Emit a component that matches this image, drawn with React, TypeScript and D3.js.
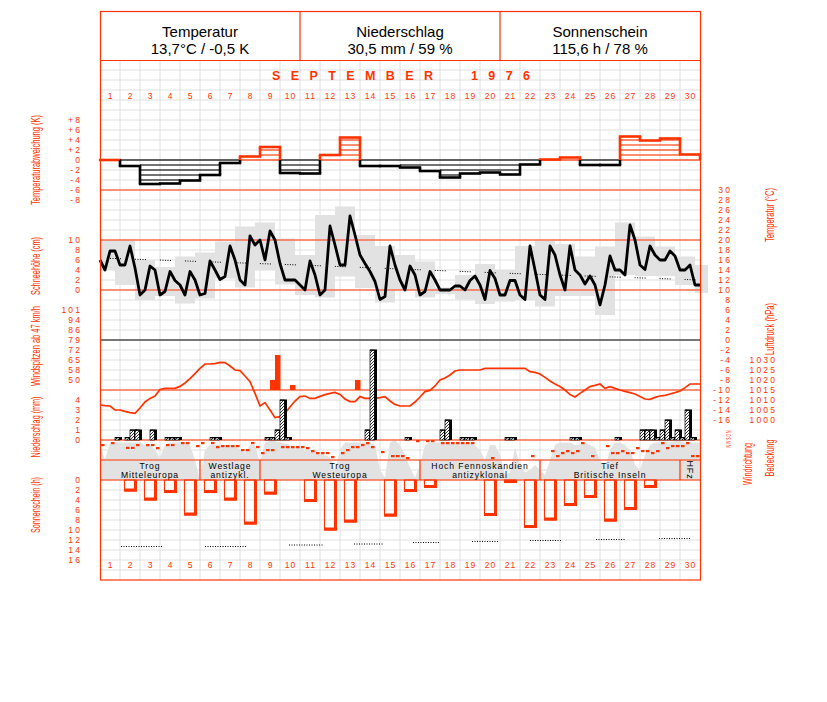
import React from 'react';
import * as d3 from 'd3';

const RED = '#ff3300';
const GRID = '#e0e0e0';
const SHADE = '#e2e2e2';

const days = d3.range(1, 31);
const headerTitles = ['Temperatur', 'Niederschlag', 'Sonnenschein'];
const headerValues = ['13,7°C / -0,5 K', '30,5 mm / 59 %', '115,6 h / 78 %'];
const monthTitle = 'SEPTEMBER  1976';

// daily temperature deviation (K)
const tempDev = [0.0, -1.2, -4.8, -4.7, -4.1, -3.0, -0.6, 0.7, 2.6, -2.6, -2.7, 1.0, 4.5, -1.2, -1.2, -1.5, -2.2, -3.5, -2.7, -2.5, -2.9, -0.9, 0.1, 0.5, -1.0, -1.0, 4.7, 3.9, 4.3, 1.1];

// temperature readings every 6 h (°C)
const tempReadings = [16, 14, 17.8, 17.8, 15, 15, 18.8, 14.4, 9, 10,
  14.8, 14, 9, 9.7, 13.7, 11.9, 11, 9, 13.7, 12,
  9, 9.3, 15.8, 14, 12.1, 12.7, 18.8, 16, 12, 11,
  20.8, 19, 20, 16, 21.8, 20, 15.3, 12, 12, 12,
  11, 10, 15.8, 13, 9, 10, 22.8, 19, 15, 15,
  24.8, 21, 17, 15.3, 13.7, 11.7, 8.1, 8.7, 18.8, 15,
  12, 10, 14.8, 13, 9, 9.7, 13.7, 12, 10, 10,
  10, 10.8, 10.8, 10, 11.9, 12.8, 11, 8.1, 13.9, 12.3,
  9, 9, 11.9, 11.9, 9, 8.1, 18.8, 14, 9, 8.1,
  18.8, 17, 13, 10, 18.8, 14, 13, 11.2, 12.8, 11,
  7, 11, 16.8, 14, 14, 13, 23, 20, 15, 14.1,
  18.8, 17, 16, 16, 17.8, 16.8, 14, 14, 15, 11, 11];

// daily max / min temperature (°C)
const tempMax = [20, 20.1, 16, 14.6, 16.7, 17.5, 19.7, 22.7, 23.5, 20.3, 17, 25, 26.7, 21, 18.8, 17, 15.7, 10.5, 13, 15.2, 14, 18.8, 19.8, 19.2, 16.7, 18.7, 23.5, 20.7, 18.7, 16.7, 15];
const tempMin = [14, 11, 8, 8.8, 7.3, 8.3, 12.3, 10.5, 14, 11.1, 9, 8.5, 12.7, 10.4, 7.5, 10, 8.5, 9.2, 8.1, 7.2, 7.7, 8, 6.7, 8.8, 8.8, 5, 13, 12.8, 12.8, 11, 9.4];

// long-term normal temperature (day, °C)
const normalTempDay = [0, 10, 20, 30];
const normalTempVal = [16.4, 15.0, 13.4, 12.0];

// air pressure every 6 h (hPa)
const pressure = [1007.5, 1007.2, 1007, 1005, 1005, 1004.3, 1003.7, 1003.3, 1006, 1009,
  1010.8, 1012, 1015.3, 1015.8, 1015.8, 1015.8, 1016.8, 1018.5, 1020.7, 1023.2,
  1025.8, 1028, 1028, 1028.2, 1028.8, 1028.7, 1027, 1025, 1024.7, 1022,
  1019.2, 1013.3, 1007, 1008.7, 1005, 1001.2, 1001.7, 1003.5, 1006.5, 1009.5,
  1011.7, 1012, 1010.8, 1010.8, 1011.8, 1012.7, 1013.3, 1013.8, 1012.8, 1010.5,
  1009.2, 1009.2, 1011.7, 1010.8, 1010.8, 1010.8, 1011.2, 1011.7, 1009.5, 1007.8,
  1007, 1007, 1007, 1009, 1011.5, 1014.2, 1014.8, 1017, 1020, 1021,
  1022.5, 1024.5, 1025, 1025, 1025, 1025, 1025, 1025.8, 1025.8, 1025.8,
  1025.8, 1025.8, 1025.8, 1025.8, 1025.8, 1025.8, 1024.2, 1023.8, 1023, 1021.3,
  1019.5, 1018, 1016.7, 1015, 1012.7, 1011.5, 1013.3, 1015, 1016.7, 1017.3,
  1018, 1015.8, 1016.7, 1015.8, 1015, 1014.3, 1013.7, 1013, 1011.7, 1010.5,
  1010.3, 1011.3, 1012, 1012.3, 1013, 1013.7, 1014.5, 1016.2, 1018, 1018, 1018];

// wind peaks (6-h slot, km/h)
const windSlot = [34, 35, 38, 51];
const windPeak = [50.4, 68.4, 46.8, 50.4];

// precipitation (6-h slot, mm)
const precipSlot = [3, 5, 6, 7, 10, 13, 14, 15, 22, 23, 33, 34, 35, 36, 37, 53, 54, 61, 68, 69, 72, 73, 74, 81, 82, 94, 95, 103, 108, 109, 110, 111, 112, 113, 114, 115, 116, 117, 118];
const precipVal = [0.25, 0.25, 1, 1, 1, 0.25, 0.25, 0.25, 0.25, 0.25, 0.25, 0.25, 1, 4, 0.25, 1, 9, 0.25, 1, 2, 0.25, 0.25, 0.25, 0.25, 0.25, 0.25, 0.25, 0.25, 1, 1, 1, 0.25, 1, 2, 0.25, 1, 0.25, 3, 0.25];

// wind direction every 6 h (degrees, null = calm)
const windDir = [270, null, 306, null, null, 220, 220, 270, null, 270,
  270, 216, null, 270, 270, null, 306, 306, null, 252,
  306, null, 306, 234, 252, 252, 252, 252, 180, 180,
  306, 234, 126, 180, 180, null, 234, 234, 234, 234,
  234, 216, 162, 126, 126, 126, 54, null, 126, 180,
  234, 234, 270, 306, 234, null, 144, null, 72, 72,
  72, 36, null, 342, null, 342, 342, null, 306, 306,
  306, 306, 306, 306, 306, null, null, null, 36, null,
  null, null, null, null, null, null, 72, null, null, null,
  162, 72, 126, 162, 126, 162, 306, null, 72, null,
  null, 252, 126, 126, 162, 126, 126, 216, 162, 162,
  126, 162, 306, 216, 252, 252, 252, 306, 72, 72];

// cloud cover every 6 h (octas)
const cloudCover = [7, 4, 7.5, 7.5, 7.5, 7.5, 7.5, 7.5, 7.5, 7,
  7, 6, 4.5, 7, 7.5, 7.5, 7.5, 7.5, 7, 4,
  0, 6, 7, 7, 7, 7, 7, 7, 6, 5.5,
  7, 7, 3.5, 7.5, 7.8, 7.8, 7.5, 7.3, 7, 6.5,
  6.5, 6, 6, 5.8, 5.5, 5, 4.5, 2, 6, 7.5,
  7.5, 7.5, 7.5, 7.5, 7.5, 7, 2, 0.5, 7.5, 8,
  7, 5, 2.5, 0.5, 3, 7, 7.5, 7.5, 7.5, 7.5,
  7.5, 7.5, 7.5, 7.5, 7.5, 7, 6, 4, 7, 7,
  5, 1, 1.5, 6.5, 3, 1.5, 2, 3, 2, 1,
  4, 7, 7.5, 7.5, 7.5, 7, 7, 7.5, 7, 6.5,
  4, 2.5, 6, 7.5, 7.5, 7, 6, 3, 2, 5,
  7, 7.5, 7.5, 7.5, 7.5, 7.8, 7.8, 7.5, 7.5, 7.5, 7.5];

// weather types
const wtLine1 = ['Trog', 'Westlage', 'Trog', 'Hoch Fennoskandien', 'Tief', 'HFz'];
const wtLine2 = ['Mitteleuropa', 'antizykl.', 'Westeuropa', 'antizyklonal', 'Britische Inseln', ''];
const wtStart = [1, 6, 9, 17, 23, 30];
const wtEnd = [5, 8, 16, 22, 29, 30];

// sunshine hours per day
const sunHours = [0, 2.2, 4.0, 2.5, 7.0, 2.5, 4.0, 8.8, 2.8, 0, 4.3, 10.0, 8.4, 0, 7.2, 2.3, 1.5, 0, 0, 7.1, 0.5, 9.5, 8.0, 5.1, 3.5, 8.2, 5.9, 1.5, 0, 0];

// normal sunshine (day ranges, hours)
const sunNormStart = [1.05, 5.25, 9.45, 12.7, 15.65, 18.6, 21.5, 24.8, 27.95];
const sunNormEnd = [3.1, 7.3, 11.2, 14.15, 17, 19.95, 23.1, 26.25, 29.5];
const sunNormHours = [13.3, 13.3, 13.0, 12.8, 12.5, 12.3, 12.1, 11.9, 11.7];

// axis ticks
const devTicks = [8, 6, 4, 2, 0, -2, -4, -6, -8];
const devLabels = ['+8', '+6', '+4', '+2', '0', '-2', '-4', '-6', '-8'];
const snowTicks = [10, 8, 6, 4, 2, 0];
const windTicks = [100.8, 93.6, 86.4, 79.2, 72, 64.8, 57.6, 50.4];
const windLabels = ['101', '94', '86', '79', '72', '65', '58', '50'];
const precTicks = [4, 3, 2, 1, 0];
const sunTicks = [0, 2, 4, 6, 8, 10, 12, 14, 16];
const tempTicks = d3.range(30, -17, -2);
const presTicks = [1030, 1025, 1020, 1015, 1010, 1005, 1000];

const leftTitles = ['Temperaturabweichung (K)', 'Schneehöhe (cm)', 'Windspitzen ab 47 km/h', 'Niederschlag (mm)', 'Sonnenschein (h)'];

export default function App() {
  const x = d3.scaleLinear().domain([0, 30]).range([100, 700]);
  const t = (k: number) => x(k / 4);
  const yDev = d3.scaleLinear().domain([-8, 8]).range([200, 120]);
  const yTemp = d3.scaleLinear().domain([-16, 30]).range([420, 190]);
  const ySnow = d3.scaleLinear().domain([0, 10]).range([290, 240]);
  const yWind = d3.scaleLinear().domain([43.2, 100.8]).range([390, 310]);
  const yPres = d3.scaleLinear().domain([1000, 1030]).range([420, 360]);
  const yPrec = d3.scaleLinear().domain([0, 4]).range([440, 400]);
  const yDir = d3.scaleLinear().domain([0, 360]).range([460, 440]);
  const yCloud = d3.scaleLinear().domain([0, 8]).range([480, 440]);
  const ySun = d3.scaleLinear().domain([0, 16]).range([480, 560]);

  const els: any[] = [];
  let key = 0;
  const K = () => key++;

  // grid
  for (let d = 1; d < 30; d++) {
    els.push(<line key={K()} x1={x(d)} x2={x(d)} y1={60} y2={580} stroke={GRID} strokeWidth={1} />);
  }
  for (let yy = 70; yy < 580; yy += 10) {
    els.push(<line key={K()} x1={100} x2={700} y1={yy} y2={yy} stroke={GRID} strokeWidth={1} />);
  }

  // temperature range boxes
  tempMax.forEach((mx, i) => {
    const x0 = Math.max(100, x(i - 0.25));
    const x1 = Math.min(708, x(i + 0.75));
    els.push(<rect key={K()} x={x0} y={yTemp(mx)} width={x1 - x0} height={yTemp(tempMin[i]) - yTemp(mx)} fill={SHADE} />);
  });

  // cloud cover area
  const cloudArea = d3.area<number>().x((_, k) => t(k)).y0(yCloud(0)).y1((v) => yCloud(v));
  els.push(<path key={K()} d={cloudArea(cloudCover) || ''} fill={SHADE} />);

  // red horizontal lines
  [60.5, 190, 240, 290, 390, 440, 460, 480].forEach((yy) => {
    els.push(<line key={K()} x1={100} x2={700} y1={yy} y2={yy} stroke={RED} strokeWidth={1.2} />);
  });
  els.push(<line key={K()} x1={100} x2={700} y1={yTemp(0)} y2={yTemp(0)} stroke="#000" strokeWidth={1.2} />);

  // weather type separators
  wtStart.forEach((s) => {
    if (s > 1) els.push(<line key={K()} x1={x(s - 1)} x2={x(s - 1)} y1={460} y2={480} stroke={RED} strokeWidth={1.2} />);
  });

  // temperature deviation
  const z = yDev(0);
  tempDev.forEach((v, i) => {
    const x0 = x(i), x1 = x(i + 1);
    const col = v >= 0 ? RED : '#000';
    els.push(<line key={K()} x1={x0} x2={x1} y1={z} y2={z} stroke={col} strokeWidth={1.2} />);
    const n = Math.floor(Math.abs(v) + 1e-6);
    for (let j = 1; j <= n; j++) {
      const yy = yDev(Math.sign(v) * j);
      if (Math.abs(yy - yDev(v)) < 1.5) continue;
      els.push(<line key={K()} x1={x0} x2={x1} y1={yy} y2={yy} stroke={col} strokeWidth={1.1} />);
    }
    els.push(<line key={K()} x1={x0 - 1.2} x2={x1 + 1.2} y1={yDev(v)} y2={yDev(v)} stroke={col} strokeWidth={2.6} />);
  });
  for (let i = 0; i <= 30; i++) {
    const prev = i > 0 ? tempDev[i - 1] : 0;
    const next = i < 30 ? tempDev[i] : 0;
    const xx = x(i);
    const cp = prev >= 0 ? RED : '#000';
    const cn = next >= 0 ? RED : '#000';
    if ((prev >= 0) === (next >= 0)) {
      els.push(<line key={K()} x1={xx} x2={xx} y1={yDev(prev)} y2={yDev(next)} stroke={i < 30 ? cn : cp} strokeWidth={2.6} />);
    } else {
      els.push(<line key={K()} x1={xx} x2={xx} y1={yDev(prev)} y2={z} stroke={cp} strokeWidth={2.6} />);
      els.push(<line key={K()} x1={xx} x2={xx} y1={z} y2={yDev(next)} stroke={cn} strokeWidth={2.6} />);
    }
  }

  // normal temperature (dotted)
  const normLine = d3.line<number>().x((_, i) => x(normalTempDay[i])).y((v) => yTemp(v));
  els.push(<path key={K()} d={normLine(normalTempVal) || ''} fill="none" stroke="#000" strokeWidth={1} strokeDasharray="1,1.5,1,1.5,1,1.5,1,1.5,1,14" strokeDashoffset={15} />);

  // temperature line
  const tLine = d3.line<number>().x((_, k) => t(k)).y((v) => yTemp(v));
  els.push(<path key={K()} d={tLine(tempReadings) || ''} fill="none" stroke="#000" strokeWidth={2.8} strokeLinejoin="round" />);

  // pressure
  const pLine = d3.line<number>().x((_, k) => t(k)).y((v) => yPres(v));
  els.push(<path key={K()} d={pLine(pressure) || ''} fill="none" stroke={RED} strokeWidth={1.7} />);

  // wind peaks
  windSlot.forEach((s, i) => {
    els.push(<rect key={K()} x={t(s)} y={yWind(windPeak[i])} width={5.5} height={yWind(43.2) - yWind(windPeak[i])} fill={RED} />);
  });

  // precipitation
  precipSlot.forEach((s, i) => {
    const x0 = t(s);
    const yt = yPrec(precipVal[i]);
    const h = yPrec(0) - yt;
    els.push(<rect key={K()} x={x0} y={yt} width={4.5} height={h} fill="url(#hatch)" stroke="#000" strokeWidth={0.7} />);
    els.push(<rect key={K()} x={x0 + 4.2} y={yt} width={2.8} height={h} fill="#000" />);
    els.push(<rect key={K()} x={x0} y={yt - 0.5} width={7} height={1.3} fill="#000" />);
  });

  // wind direction dots
  windDir.forEach((v, k) => {
    if (v == null) return;
    els.push(<rect key={K()} x={t(k) + 1} y={yDir(v) - 1} width={3.5} height={2.2} fill={RED} />);
  });

  // weather type labels
  wtLine1.forEach((l1, i) => {
    const cx = (x(wtStart[i] - 1) + x(wtEnd[i])) / 2;
    if (l1 === 'HFz') {
      els.push(<text key={K()} transform={`translate(${cx - 3},470) rotate(90)`} textAnchor="middle" fontSize={9} fill="#000" style={{ letterSpacing: '0.8px' }}>{l1}</text>);
    } else {
      els.push(<text key={K()} x={cx} y={469} textAnchor="middle" fontSize={8.6} fill="#000" style={{ letterSpacing: '0.9px' }}>{l1}</text>);
      els.push(<text key={K()} x={cx} y={477.5} textAnchor="middle" fontSize={8.6} fill="#000" style={{ letterSpacing: '0.9px' }}>{wtLine2[i]}</text>);
    }
  });

  // sunshine bars
  sunHours.forEach((h, i) => {
    if (h <= 0) return;
    const x0 = x(i) + 4.5, x1 = x(i) + 16;
    const yb = ySun(h);
    els.push(<rect key={K()} x={x0} y={480} width={x1 - x0} height={yb - 480} fill="none" stroke={RED} strokeWidth={1.1} />);
    els.push(<path key={K()} d={`M${x0},${yb - 1} H${x1 - 0.5} V480`} fill="none" stroke={RED} strokeWidth={3} />);
  });

  // normal sunshine
  sunNormStart.forEach((s, i) => {
    els.push(<line key={K()} x1={x(s)} x2={x(sunNormEnd[i])} y1={ySun(sunNormHours[i])} y2={ySun(sunNormHours[i])} stroke="#000" strokeWidth={1} strokeDasharray="1,1.5" />);
  });

  // frame
  els.push(<rect key={K()} x={100.5} y={11.5} width={600} height={568.5} fill="none" stroke={RED} strokeWidth={1.2} />);
  els.push(<line key={K()} x1={300} x2={300} y1={11.5} y2={60.5} stroke={RED} strokeWidth={1.2} />);
  els.push(<line key={K()} x1={500} x2={500} y1={11.5} y2={60.5} stroke={RED} strokeWidth={1.2} />);

  // header text
  headerTitles.forEach((h, i) => {
    const cx = 200 + i * 200;
    els.push(<text key={K()} x={cx} y={37} textAnchor="middle" fontSize={15} fill="#000">{h}</text>);
    els.push(<text key={K()} x={cx} y={54} textAnchor="middle" fontSize={15} fill="#000">{headerValues[i]}</text>);
  });
  els.push(<text key={K()} x={272} y={80} fontSize={12.5} fontWeight="bold" fill={RED} textLength={258} lengthAdjust="spacing" style={{ whiteSpace: 'pre' }}>{monthTitle}</text>);

  // day numbers
  days.forEach((d) => {
    const cx = x(d - 0.5);
    els.push(<text key={K()} x={cx + 0.5} y={98.5} textAnchor="middle" fontSize={8.5} fill={RED} style={{ letterSpacing: '1px' }}>{d}</text>);
    els.push(<text key={K()} x={cx + 0.5} y={568} textAnchor="middle" fontSize={8.5} fill={RED} style={{ letterSpacing: '1px' }}>{d}</text>);
  });

  // tick labels
  const tickStyle = { letterSpacing: '2.2px' };
  const lt = (txt: string, yy: number, xr: number) => (
    <text key={K()} x={xr + 2.2} y={yy + 3} textAnchor="end" fontSize={8.5} fill={RED} style={tickStyle}>{txt}</text>
  );
  devTicks.forEach((v, i) => els.push(lt(devLabels[i], yDev(v), 80)));
  snowTicks.forEach((v) => els.push(lt(String(v), ySnow(v), 80)));
  windTicks.forEach((v, i) => els.push(lt(windLabels[i], yWind(v), 80)));
  precTicks.forEach((v) => els.push(lt(String(v), yPrec(v), 80)));
  sunTicks.forEach((v) => els.push(lt(String(v), ySun(v), 80)));
  tempTicks.forEach((v) => els.push(lt(String(v), yTemp(v), 730)));
  presTicks.forEach((v) => els.push(lt(String(v), yPres(v), 775)));

  // rotated titles
  const rt = (txt: string, cx: number, cy: number, len: number, fs = 12) => (
    <text key={K()} transform={`translate(${cx},${cy}) rotate(-90)`} textAnchor="middle" dominantBaseline="central" fontSize={fs} fill={RED} textLength={len} lengthAdjust="spacingAndGlyphs">{txt}</text>
  );
  const leftCenters = [160, 266, 346, 427, 505];
  const leftLens = [90, 58, 80, 61, 56];
  leftTitles.forEach((l, i) => els.push(rt(l, 36, leftCenters[i], leftLens[i])));
  els.push(rt('Temperatur (°C)', 770, 215, 54));
  els.push(rt('Luftdruck (hPa)', 770, 329, 52));
  els.push(rt('Windrichtung', 748, 464, 42));
  els.push(rt('Bedeckung', 770, 458, 37));
  els.push(rt('N W S O N', 728, 439, 17, 7.5));

  return (
    <svg width={827} height={702} style={{ position: 'absolute', left: 0, top: 0, background: '#fff' }} fontFamily="Arial, 'Liberation Sans', sans-serif">
      <defs>
        <pattern id="hatch" width={3} height={3} patternUnits="userSpaceOnUse">
          <rect width={3} height={3} fill="#fff" />
          <path d="M0,3 L3,0 M-1,1 L1,-1 M2,4 L4,2" stroke="#000" strokeWidth={0.8} />
        </pattern>
      </defs>
      <rect x={0} y={0} width={827} height={702} fill="#fff" />
      {els}
    </svg>
  );
}
